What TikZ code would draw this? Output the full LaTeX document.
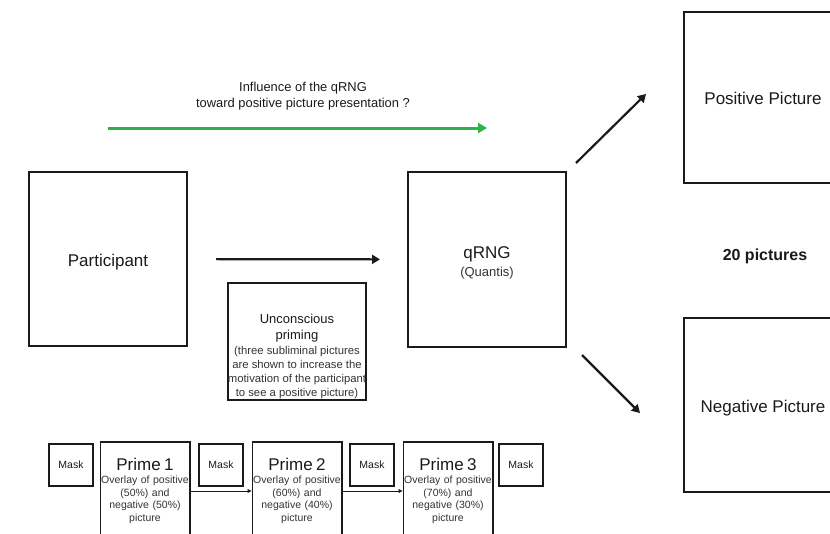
\documentclass[tikz,border=0pt]{standalone}
\usepackage{fontspec}
\setmainfont{Liberation Sans}
\usepackage{xcolor}
\usetikzlibrary{arrows.meta,positioning}
\definecolor{ink}{HTML}{1A1A1A}
\definecolor{inkgray}{HTML}{333333}
\definecolor{qgreen}{HTML}{2DB34A}
\tikzset{
  box/.style={draw=ink,line width=1.8pt,align=center,inner sep=0pt,
              text=ink},
  bigbox/.style={box,minimum width=158.2,minimum height=174.2,
                 font=\fontsize{17}{20}\selectfont},
  maskbox/.style={box,minimum width=44.2,minimum height=42.2,
                  font=\fontsize{10.5}{12}\selectfont},
  primebox/.style={box,minimum width=89.2,minimum height=98.2,
                   text width=89.2,text=inkgray,
                   font=\fontsize{10.5}{12.7}\selectfont},
  blackarr/.style={-{Triangle[length=8pt,width=9pt]},line width=2.2pt,
                   draw=ink},
  greenarr/.style={-{Triangle[length=9pt,width=10pt]},line width=3pt,
                   draw=qgreen},
  thinarr/.style={-{Triangle[length=4pt,width=4pt]},line width=0.8pt,
                  draw=ink}
}
\newcommand{\primetitle}[1]{{\fontsize{17}{20}\selectfont\color{ink}#1}}
\begin{document}
\begin{tikzpicture}[x=1pt,y=-1pt]
    \useasboundingbox (0,0) rectangle (830,533);
    % main boxes
    \node[bigbox,text height=14.2,text depth=0] (part) at (108,259) {Participant};
    \node[bigbox,minimum height=175.2] (qrng) at (487,259.5) {\rule{0pt}{18pt}qRNG\\[-2pt]
      {\fontsize{13}{15}\selectfont\color{inkgray}(Quantis)}};
    \node[bigbox,minimum height=171.2,text height=13.2,text depth=0] (pos)
      at (763,97.5) {Positive Picture};
    \node[bigbox,text height=14.2,text depth=0] (neg) at (763,405) {Negative Picture};
    \node[font=\fontsize{16}{19}\selectfont\bfseries,text=ink] (npics)
      at (765,256) {20 pictures};
    % influence arrow
    \coordinate (gstart) at (108,128);
    \coordinate (gend) at (487,128);
    \node[align=center,text=ink,font=\fontsize{12.9}{16.5}\selectfont] (infl)
      at (303,96) {Influence of the qRNG\\toward positive picture presentation ?};
    \draw[greenarr] (gstart) -- (gend);
    % priming box
    \node[box,minimum width=138.2,minimum height=117.2] (prim) at (297,341.5) {};
    \node[align=center,text=inkgray,font=\fontsize{11.3}{14}\selectfont,
          above=-1pt of prim.south] (primtxt)
      {{\fontsize{13}{15.5}\selectfont\color{ink}Unconscious}\\[2pt]
       {\fontsize{13}{15.5}\selectfont\color{ink}priming}\\[1pt]
       (three subliminal pictures\\are shown to increase the\\
       motivation of the participant\\to see a positive picture)};
    % masks and primes
    \node[maskbox] (mask1) at (71,465) {Mask};
    \node[primebox] (p1) at (145,491) {\primetitle{Prime 1}\\Overlay of positive\\
      (50\%) and\\negative (50\%)\\picture};
    \node[maskbox] (mask2) at (221,465) {Mask};
    \node[primebox] (p2) at (297,491) {\primetitle{Prime 2}\\Overlay of positive\\
      (60\%) and\\negative (40\%)\\picture};
    \node[maskbox] (mask3) at (372,465) {Mask};
    \node[primebox] (p3) at (448,491) {\primetitle{Prime 3}\\Overlay of positive\\
      (70\%) and\\negative (30\%)\\picture};
    \node[maskbox] (mask4) at (521,465) {Mask};
    % connectors
    \draw[blackarr,shorten <=28pt,shorten >=27pt] (part) -- (qrng);
    \draw[blackarr] ([shift={(9,-8)}]qrng.north east)
      -- ([shift={(-37,-3.5)}]pos.west);
    \draw[blackarr] ([shift={(15,7)}]qrng.south east)
      -- ([shift={(-43,8)}]neg.west);
    \draw[thinarr] (p1) -- (p2);
    \draw[thinarr] (p2) -- (p3);
  \end{tikzpicture}
\end{document}
